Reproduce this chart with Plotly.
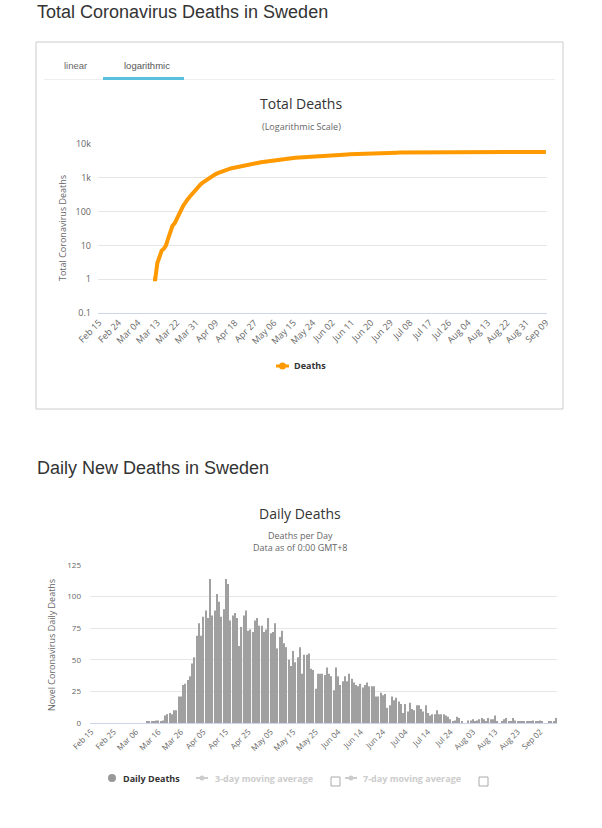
import pandas as pd
import plotly.graph_objects as go

# ---------------- data ----------------
dates = pd.date_range("2020-02-15", "2020-09-09").strftime("%b %d").tolist()
top_tick_labels = dates[::9]
bottom_tick_labels = dates[::10]

total_start = "Mar 11"
total_deaths = (
    # Mar 11 - Mar 31
    [1, 1, 3, 5, 7, 8, 10, 16, 28, 38, 45, 58, 85, 110, 150, 195, 230, 276, 330, 400, 470]
    # Apr
    + [550, 640, 720, 800, 880, 960, 1060, 1180, 1290, 1380, 1470, 1560, 1640, 1720, 1800,
       1890, 1960, 2030, 2100, 2170, 2230, 2300, 2370, 2440, 2510, 2580, 2650, 2720, 2800, 2870]
    # May
    + [2940, 3010, 3080, 3150, 3230, 3300, 3370, 3430, 3500, 3560, 3620, 3680, 3740, 3790, 3850,
       3900, 3950, 4010, 4050, 4100, 4160, 4210, 4250, 4300, 4340, 4380, 4420, 4460, 4500, 4540, 4580]
    # Jun
    + [4620, 4660, 4700, 4740, 4780, 4810, 4840, 4880, 4920, 4950, 4990, 5030, 5060, 5100, 5130,
       5160, 5190, 5220, 5250, 5280, 5300, 5330, 5360, 5380, 5410, 5430, 5450, 5470, 5490, 5510]
    # Jul
    + [5530, 5550, 5570, 5580, 5600, 5610, 5620, 5640, 5650, 5660, 5670, 5680, 5690, 5700, 5710,
       5720, 5725, 5730, 5740, 5745, 5750, 5755, 5760, 5765, 5768, 5770, 5772, 5775, 5778, 5780, 5783]
    # Aug
    + [5785, 5787, 5790, 5792, 5794, 5797, 5800, 5802, 5804, 5807, 5809, 5811, 5814, 5815, 5816,
       5817, 5819, 5821, 5822, 5823, 5825, 5826, 5827, 5828, 5829, 5830, 5831, 5832, 5834, 5835, 5836]
    # Sep 1 - 9
    + [5837, 5838, 5839, 5840, 5841, 5842, 5843, 5844, 5846]
)

daily_deaths = (
    [0] * 25  # Feb 15 - Mar 10
    + [1, 1, 1, 1, 2, 2, 1, 2]  # Mar 11 - 18
    + [6, 7, 8, 7, 10, 10, 21, 21, 30, 31, 34, 37, 47]  # Mar 19 - 31
    + [52, 69, 79, 69, 84, 89, 83, 114, 85, 89, 102, 96, 84, 90]  # Apr 1 - 14
    + [114, 110, 81, 85, 87, 83, 61, 76, 85, 89, 73, 74, 72, 81, 83, 77]  # Apr 15 - 30
    + [77, 72, 74, 83, 71, 72, 79, 59, 68, 73, 63, 60, 50, 45, 57, 48, 52]  # May 1 - 17
    + [60, 39, 54, 54, 55, 43, 42, 27, 39, 39, 39, 38, 44, 39]  # May 18 - 31
    + [37, 26, 44, 37, 30, 33, 37, 33, 39, 35, 32, 30, 29, 31, 28,
       30, 32, 29, 29, 29, 21, 21, 24, 22, 23, 12, 14, 21, 18, 20]  # Jun
    + [17, 15, 8, 15, 9, 16, 11, 10, 14, 14, 11, 9, 14, 8, 6, 7,
       7, 10, 7, 7, 7, 6, 5, 3, 1, 2, 5, 4, 1, 0, 0]  # Jul
    + [2, 2, 3, 1, 2, 3, 4, 3, 1, 4, 3, 3, 6, 1, 0, 1,
       3, 4, 1, 1, 4, 2, 1, 1, 1, 1, 1, 1, 1, 2, 1]  # Aug
    + [1, 2, 1, 0, 0, 1, 1, 1, 4]  # Sep 1 - 9
)

log_tick_vals = [0.1, 1, 10, 100, 1000, 10000]
log_tick_text = ["0.1", "1", "10", "100", "1k", "10k"]

# ---------------- layout helpers ----------------
W, H = 602, 828


def px(x):
    return x / W


def py(y):
    return 1 - y / H


CHART_FONT = "Open Sans, DejaVu Sans, sans-serif"
PAGE_FONT = "Liberation Sans, Arial, sans-serif"

i0 = dates.index(total_start)

fig = go.Figure()

fig.add_trace(go.Scatter(
    x=dates[i0:i0 + len(total_deaths)], y=total_deaths,
    mode="lines", line=dict(color="#FF9900", width=4),
    name="Deaths", showlegend=False, xaxis="x", yaxis="y",
))

fig.add_trace(go.Bar(
    x=dates, y=daily_deaths,
    marker=dict(color="#a0a0a0", line=dict(width=0)),
    name="Daily Deaths", showlegend=False, xaxis="x2", yaxis="y2",
))

axis_common = dict(
    type="category", categoryorder="array", categoryarray=dates,
    range=[-0.5, len(dates) - 0.5], tickmode="array", tickangle=-45,
    showgrid=False, zeroline=False, showline=True, linecolor="#ccd6eb",
    linewidth=1, ticks="", fixedrange=True, automargin=False,
)

fig.update_layout(
    width=W, height=H, autosize=False,
    margin=dict(l=0, r=0, t=0, b=0, pad=0, autoexpand=False),
    paper_bgcolor="white", plot_bgcolor="white",
    bargap=0.5, showlegend=False,
    font=dict(family=CHART_FONT, color="#666666"),
    xaxis=dict(axis_common, domain=[px(98), px(547)], anchor="y",
               tickvals=top_tick_labels, ticktext=top_tick_labels,
               tickfont=dict(size=9, color="#666666")),
    yaxis=dict(type="log", range=[-1, 4], domain=[py(313), py(144)], anchor="x",
               tickmode="array", tickvals=log_tick_vals, ticktext=log_tick_text,
               gridcolor="#e6e6e6", zeroline=False, showline=False, ticks="",
               ticklabelstandoff=6, tickfont=dict(size=9, color="#666666"),
               fixedrange=True, automargin=False),
    xaxis2=dict(axis_common, domain=[px(90), px(557)], anchor="y2",
                tickvals=bottom_tick_labels, ticktext=bottom_tick_labels,
                tickfont=dict(size=8, color="#666666")),
    yaxis2=dict(range=[0, 125], dtick=25, domain=[py(723), py(565)], anchor="x2",
                gridcolor="#e6e6e6", zeroline=False, showline=False, ticks="",
                ticklabelstandoff=8, tickfont=dict(size=8, color="#666666"),
                fixedrange=True, automargin=False),
)

ann = []


def text(x, y, s, size, color="#333333", family=CHART_FONT, xanchor="left",
         angle=0, weight="normal"):
    ann.append(dict(x=px(x), y=py(y), xref="paper", yref="paper", text=s,
                    showarrow=False, xanchor=xanchor, yanchor="middle",
                    textangle=angle,
                    font=dict(size=size, color=color, family=family, weight=weight)))


# page headings
text(35, 12, "Total Coronavirus Deaths in Sweden", 18, "#333333", PAGE_FONT)
text(35, 468, "Daily New Deaths in Sweden", 18, "#333333", PAGE_FONT)

# tabs
text(62, 65, "linear", 9.5, "#666666", PAGE_FONT)
text(122, 65, "logarithmic", 9.5, "#555555", PAGE_FONT)

# chart 1 titles
text(301, 103, "Total Deaths", 14, "#333333", xanchor="center")
text(301, 126, "(Logarithmic Scale)", 9, "#666666", xanchor="center")
text(62, 228, "Total Coronavirus Deaths", 9, "#666666", xanchor="center", angle=-90)
text(292, 366, "Deaths", 9, "#333333", weight="bold")

# chart 2 titles
text(300, 513, "Daily Deaths", 14, "#333333", xanchor="center")
text(300, 541, "Deaths per Day<br>Data as of 0:00 GMT+8", 9, "#666666", xanchor="center")
text(51, 645, "Novel Coronavirus Daily Deaths", 9, "#666666", xanchor="center", angle=-90)
text(121, 778, "Daily Deaths", 9, "#333333", weight="bold")
text(213, 778, "3-day moving average", 9, "#cccccc", weight="bold")
text(361, 778, "7-day moving average", 9, "#cccccc", weight="bold")

fig.update_layout(annotations=ann)

shapes = []


def rect(x0, y0, x1, y1, line="#cccccc", fill=None, lw=1):
    shapes.append(dict(type="rect", xref="paper", yref="paper",
                       x0=px(x0), x1=px(x1), y0=py(y0), y1=py(y1),
                       line=dict(color=line, width=lw),
                       fillcolor=fill if fill else "rgba(0,0,0,0)"))


def hline(x0, x1, y, color, lw):
    shapes.append(dict(type="line", xref="paper", yref="paper",
                       x0=px(x0), x1=px(x1), y0=py(y), y1=py(y),
                       line=dict(color=color, width=lw)))


def circle(cx, cy, r, color):
    shapes.append(dict(type="circle", xref="paper", yref="paper",
                       x0=px(cx - r), x1=px(cx + r), y0=py(cy + r), y1=py(cy - r),
                       line=dict(width=0), fillcolor=color))


# box around chart 1
rect(36, 42, 563, 409, line="#cccccc")
hline(44, 555, 79.5, "#eeeeee", 1)
rect(103, 77, 184, 80, line="rgba(0,0,0,0)", fill="#5bc0de", lw=0)

# legend chart 1
hline(276, 289, 366, "#FF9900", 3)
circle(282.5, 366, 3.5, "#FF9900")

# legend chart 2
circle(112, 778, 4, "#999999")
hline(196, 208, 778, "#cccccc", 2)
circle(202, 778, 2.5, "#cccccc")
rect(331, 777, 340, 786, line="#aaaaaa")
hline(345, 357, 778, "#cccccc", 2)
circle(351, 778, 2.5, "#cccccc")
rect(479, 777, 488, 786, line="#aaaaaa")

fig.update_layout(shapes=shapes)

page_fix = (
    "document.documentElement.style.margin='0';"
    "document.documentElement.style.overflow='hidden';"
    "document.body.style.margin='0';"
    "document.body.style.padding='0';"
    "document.body.style.overflow='hidden';"
    "var gd=document.getElementById('{plot_id}');"
    "gd.style.position='absolute';gd.style.left='0px';gd.style.top='0px';"
)

fig.write_html("out.html", config={"displayModeBar": False}, post_script=page_fix)
